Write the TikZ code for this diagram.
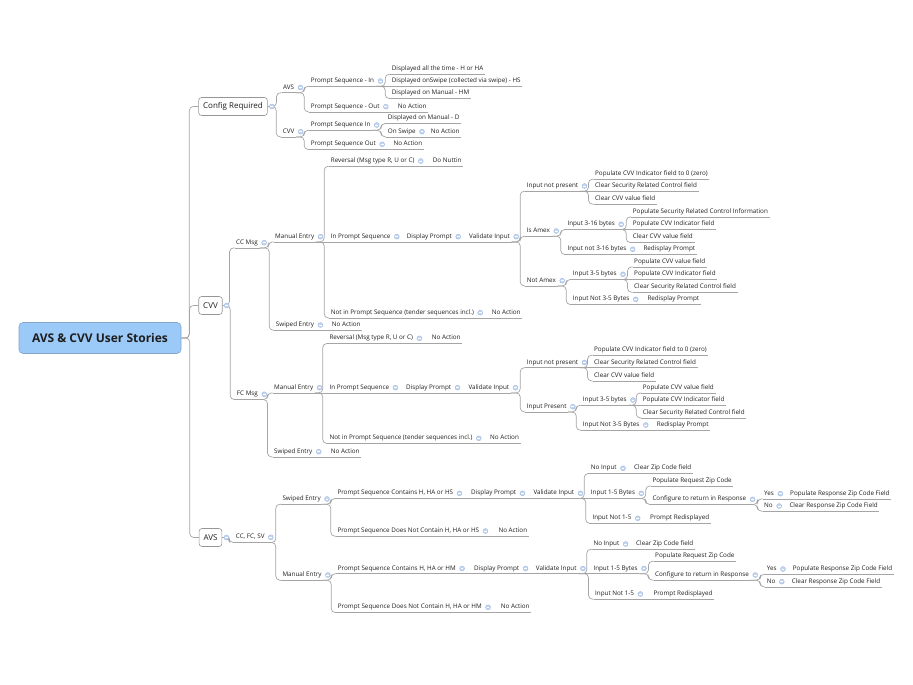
\documentclass[tikz,border=0pt]{standalone}
\usepackage{fontspec}
\setmainfont{Open Sans}
\usetikzlibrary{backgrounds}
\definecolor{linegray}{RGB}{165,165,165}
\definecolor{txtgray}{RGB}{30,30,30}
\definecolor{boxgray}{RGB}{150,150,150}
\definecolor{rootblue}{RGB}{155,201,248}
\definecolor{rootedge}{RGB}{135,165,200}
\definecolor{mkblue}{RGB}{196,214,240}
\definecolor{mkedge}{RGB}{150,178,220}
\newcommand{\lblfont}{\fontsize{6.3}{7.5}\selectfont}
\newcommand{\topicfont}{\fontsize{8}{9.5}\selectfont}
\newcommand{\rootfont}{\fontsize{12}{14}\selectfont\bfseries}
\newcommand{\mmlink}[2]{\draw[conn] (#1.south east) -| ([xshift=-5pt]#2.south west) -- (#2.south west);}
\newcommand{\mmchain}[2]{\draw[conn] (#1.south east) -- (#2.south west);}
\newcommand{\boxlink}[2]{\draw[conn] (#1.east) -| ([xshift=-5pt]#2.south west) -- (#2.south west);}

\begin{document}
\begin{tikzpicture}[
    x=1pt, y=-1pt,
    conn/.style={draw=linegray, line width=0.7pt, rounded corners=4pt},
    uline/.style={draw=linegray, line width=0.7pt},
    mk/.style={circle, fill=mkblue, draw=mkedge, line width=0.3pt, minimum size=5pt, inner sep=0pt, label distance=2pt,
      path picture={\draw[white, line width=0.6pt] ([xshift=-1.4pt]path picture bounding box.center) -- ([xshift=1.4pt]path picture bounding box.center);}},
    lbl/.style={anchor=west, font=\lblfont, text=txtgray, inner xsep=1.5pt, inner ysep=2pt, text height=4.6pt, text depth=1.4pt,
      append after command={(\tikzlastnode.south west) edge[uline] (\tikzlastnode.south east)}},
    lblp/.style={lbl, label={[mk, label distance=2pt]right:{}}},
    topic/.style={rectangle, rounded corners=3pt, draw=boxgray, fill=white, line width=0.6pt, font=\topicfont, text=txtgray,
      inner xsep=4.5pt, inner ysep=0pt, minimum height=18pt, label={[mk, label distance=1.5pt]right:{}}},
    rootbox/.style={rectangle, rounded corners=4pt, draw=rootedge, fill=rootblue, line width=0.6pt, font=\rootfont, text=txtgray,
      minimum width=162pt, minimum height=31pt}]

  \useasboundingbox (0,0) rectangle (913,685);

  \node[rootbox] (root) at (100,338) {AVS \& CVV User Stories};
  \node[topic] (cfg) at (233,106.5) {Config Required};
  \node[topic] (cvv) at (210.5,305.5) {CVV};
  \node[topic] (avs) at (210.5,537.5) {AVS};

  % Config Required
  \node[lblp] (cAVS) at (281.5,87.5) {AVS};
  \node[lblp] (cPSin) at (309.2,81) {Prompt Sequence - In};
  \node[lbl] (cDisp1) at (390.2,69) {Displayed all the time - H or HA};
  \node[lbl] (cDisp2) at (390.2,81) {Displayed onSwipe (collected via swipe) - HS};
  \node[lbl] (cDisp3) at (390.2,93.3) {Displayed on Manual - HM};
  \node[lblp] (cPSout) at (309.2,106.7) {Prompt Sequence - Out};
  \node[lbl] (cNA1) at (396.2,106.7) {No Action};
  \node[lblp] (cCVV) at (281.2,131.7) {CVV};
  \node[lblp] (cCPSin) at (309.2,125) {Prompt Sequence In};
  \node[lbl] (cDispD) at (386.2,118.3) {Displayed on Manual - D};
  \node[lblp] (cSwipe) at (386.2,131.7) {On Swipe};
  \node[lbl] (cNA2) at (429.2,131.7) {No Action};
  \node[lblp] (cCPSout) at (309.2,144.3) {Prompt Sequence Out};
  \node[lbl] (cNA3) at (391.8,144.3) {No Action};

  % CVV - CC Msg
  \node[lblp] (ccMsg) at (234.5,242.7) {CC Msg};
  \node[lblp] (ccMan) at (273.5,236.7) {Manual Entry};
  \node[lblp] (ccRev) at (329.2,161) {Reversal (Msg type R, U or C)};
  \node[lbl] (ccNutt) at (431.2,161) {Do Nuttin};
  \node[lblp] (ccInPS) at (329.2,236.7) {In Prompt Sequence};
  \node[lblp] (ccDisp) at (405.2,236.7) {Display Prompt};
  \node[lblp] (ccVal) at (467.5,236.7) {Validate Input};
  \node[lblp] (ccNotPres) at (525.2,186) {Input not present};
  \node[lbl] (ccNP1) at (593.5,174) {Populate CVV Indicator field to 0 (zero)};
  \node[lbl] (ccNP2) at (593.5,186) {Clear Security Related Control field};
  \node[lbl] (ccNP3) at (593.5,199) {Clear CVV value field};
  \node[lblp] (ccAmex) at (525.2,231) {Is Amex};
  \node[lblp] (ccA316) at (565.8,224.3) {Input 3-16 bytes};
  \node[lbl] (ccA1) at (631.2,211.7) {Populate Security Related Control Information};
  \node[lbl] (ccA2) at (631.2,224.3) {Populate CVV Indicator field};
  \node[lbl] (ccA3) at (631.2,237.3) {Clear CVV value field};
  \node[lblp] (ccAnot) at (565.8,249.3) {Input not 3-16 bytes};
  \node[lbl] (ccAred) at (641.8,249.3) {Redisplay Prompt};
  \node[lblp] (ccNotAmex) at (525.2,280.7) {Not Amex};
  \node[lblp] (ccN35) at (571.2,274.3) {Input 3-5 bytes};
  \node[lbl] (ccN1) at (632.5,261.7) {Populate CVV value field};
  \node[lbl] (ccN2) at (632.5,274.3) {Populate CVV Indicator field};
  \node[lbl] (ccN3) at (632.5,287) {Clear Security Related Control field};
  \node[lblp] (ccNnot) at (571.2,299.3) {Input Not 3-5 Bytes};
  \node[lbl] (ccNred) at (645.8,299.3) {Redisplay Prompt};
  \node[lblp] (ccNotPS) at (329.2,312.7) {Not in Prompt Sequence (tender sequences incl.)};
  \node[lbl] (ccNotPSna) at (490.2,312.7) {No Action};
  \node[lblp] (ccSwp) at (274.2,325) {Swiped Entry};
  \node[lbl] (ccSwpNA) at (330.2,325) {No Action};

  % CVV - FC Msg
  \node[lblp] (fcMsg) at (235.2,394.3) {FC Msg};
  \node[lblp] (fcMan) at (272.5,387.7) {Manual Entry};
  \node[lblp] (fcRev) at (327.8,338.3) {Reversal (Msg type R, U or C)};
  \node[lbl] (fcRevNA) at (430.2,338.3) {No Action};
  \node[lblp] (fcInPS) at (327.8,387.7) {In Prompt Sequence};
  \node[lblp] (fcDisp) at (404.5,387.7) {Display Prompt};
  \node[lblp] (fcVal) at (466.8,387.7) {Validate Input};
  \node[lblp] (fcNotPres) at (525.2,362.5) {Input not present};
  \node[lbl] (fcNP1) at (592.5,350) {Populate CVV Indicator field to 0 (zero)};
  \node[lbl] (fcNP2) at (592.5,362.5) {Clear Security Related Control field};
  \node[lbl] (fcNP3) at (592.5,375.7) {Clear CVV value field};
  \node[lblp] (fcPres) at (525.2,406.7) {Input Present};
  \node[lblp] (fcP35) at (581.2,400) {Input 3-5 bytes};
  \node[lbl] (fcP1) at (641.2,387.7) {Populate CVV value field};
  \node[lbl] (fcP2) at (641.2,400) {Populate CVV Indicator field};
  \node[lbl] (fcP3) at (641.2,412.7) {Clear Security Related Control field};
  \node[lblp] (fcPnot) at (581.2,425) {Input Not 3-5 Bytes};
  \node[lbl] (fcPred) at (655.2,425) {Redisplay Prompt};
  \node[lblp] (fcNotPS) at (327.8,438.3) {Not in Prompt Sequence (tender sequences incl.)};
  \node[lbl] (fcNotPSna) at (488.5,438.3) {No Action};
  \node[lblp] (fcSwp) at (272.5,451.7) {Swiped Entry};
  \node[lbl] (fcSwpNA) at (329.2,451.7) {No Action};

  % AVS
  \node[lblp] (aCards) at (234.2,537.3) {CC, FC, SV};
  \node[lblp] (aSwp) at (280.8,499) {Swiped Entry};
  \node[lblp] (aSwpHS) at (335.8,493.3) {Prompt Sequence Contains H, HA or HS};
  \node[lblp] (aSwpDisp) at (469.5,493.3) {Display Prompt};
  \node[lblp] (aSwpVal) at (531.8,493.3) {Validate Input};
  \node[lblp] (aSNo) at (589.2,468.3) {No Input};
  \node[lbl] (aSNoClr) at (632.5,468.3) {Clear Zip Code field};
  \node[lblp] (aS15) at (589.2,493.3) {Input 1-5 Bytes};
  \node[lbl] (aSReq) at (650.8,480.7) {Populate Request Zip Code};
  \node[lblp] (aSCfg) at (650.8,499.3) {Configure to return in Response};
  \node[lblp] (aSYes) at (762.5,493.7) {Yes};
  \node[lbl] (aSYesP) at (788.5,493.7) {Populate Response Zip Code Field};
  \node[lblp] (aSNo2) at (762.5,506) {No};
  \node[lbl] (aSNoC) at (787.8,506) {Clear Response Zip Code Field};
  \node[lblp] (aSNot) at (590.8,518.3) {Input Not 1-5};
  \node[lbl] (aSNotP) at (648.5,518.3) {Prompt Redisplayed};
  \node[lblp] (aSwpNot) at (335.8,531) {Prompt Sequence Does Not Contain H, HA or HS};
  \node[lbl] (aSwpNotNA) at (496.8,531) {No Action};
  \node[lblp] (aMan) at (280.8,575) {Manual Entry};
  \node[lblp] (aManHM) at (336.2,568.5) {Prompt Sequence Contains H, HA or HM};
  \node[lblp] (aManDisp) at (472.5,568.5) {Display Prompt};
  \node[lblp] (aManVal) at (534.2,568.5) {Validate Input};
  \node[lblp] (aMNo) at (591.8,544) {No Input};
  \node[lbl] (aMNoClr) at (634.5,544) {Clear Zip Code field};
  \node[lblp] (aM15) at (591.8,568.5) {Input 1-5 Bytes};
  \node[lbl] (aMReq) at (653.5,556) {Populate Request Zip Code};
  \node[lblp] (aMCfg) at (653.5,575) {Configure to return in Response};
  \node[lblp] (aMYes) at (765.2,569) {Yes};
  \node[lbl] (aMYesP) at (791.2,569) {Populate Response Zip Code Field};
  \node[lblp] (aMNo2) at (765.2,581.7) {No};
  \node[lbl] (aMNoC) at (790.2,581.7) {Clear Response Zip Code Field};
  \node[lblp] (aMNot) at (593.5,594) {Input Not 1-5};
  \node[lbl] (aMNotP) at (651.8,594) {Prompt Redisplayed};
  \node[lblp] (aManNot) at (336.2,607.3) {Prompt Sequence Does Not Contain H, HA or HM};
  \node[lbl] (aManNotNA) at (499.2,607.3) {No Action};

  \begin{scope}[on background layer]
    \draw[conn] (root.east) -| ([xshift=-9pt]cfg.west) -- (cfg.west);
    \draw[conn] (root.east) -| ([xshift=-9pt]cvv.west) -- (cvv.west);
    \draw[conn] (root.east) -| ([xshift=-9pt]avs.west) -- (avs.west);

    \boxlink{cfg}{cAVS} \boxlink{cfg}{cCVV}
    \mmlink{cAVS}{cPSin} \mmlink{cAVS}{cPSout}
    \mmlink{cPSin}{cDisp1} \mmchain{cPSin}{cDisp2} \mmlink{cPSin}{cDisp3}
    \mmchain{cPSout}{cNA1}
    \mmlink{cCVV}{cCPSin} \mmlink{cCVV}{cCPSout}
    \mmlink{cCPSin}{cDispD} \mmlink{cCPSin}{cSwipe}
    \mmchain{cSwipe}{cNA2} \mmchain{cCPSout}{cNA3}

    \boxlink{cvv}{ccMsg} \boxlink{cvv}{fcMsg}
    \mmlink{ccMsg}{ccMan} \mmlink{ccMsg}{ccSwp}
    \mmlink{ccMan}{ccRev} \mmchain{ccMan}{ccInPS} \mmlink{ccMan}{ccNotPS}
    \mmchain{ccRev}{ccNutt} \mmchain{ccInPS}{ccDisp} \mmchain{ccDisp}{ccVal}
    \mmlink{ccVal}{ccNotPres} \mmlink{ccVal}{ccAmex} \mmlink{ccVal}{ccNotAmex}
    \mmlink{ccNotPres}{ccNP1} \mmchain{ccNotPres}{ccNP2} \mmlink{ccNotPres}{ccNP3}
    \mmlink{ccAmex}{ccA316} \mmlink{ccAmex}{ccAnot}
    \mmlink{ccA316}{ccA1} \mmchain{ccA316}{ccA2} \mmlink{ccA316}{ccA3}
    \mmchain{ccAnot}{ccAred}
    \mmlink{ccNotAmex}{ccN35} \mmlink{ccNotAmex}{ccNnot}
    \mmlink{ccN35}{ccN1} \mmchain{ccN35}{ccN2} \mmlink{ccN35}{ccN3}
    \mmchain{ccNnot}{ccNred}
    \mmchain{ccNotPS}{ccNotPSna} \mmchain{ccSwp}{ccSwpNA}

    \mmlink{fcMsg}{fcMan} \mmlink{fcMsg}{fcSwp}
    \mmlink{fcMan}{fcRev} \mmchain{fcMan}{fcInPS} \mmlink{fcMan}{fcNotPS}
    \mmchain{fcRev}{fcRevNA} \mmchain{fcInPS}{fcDisp} \mmchain{fcDisp}{fcVal}
    \mmlink{fcVal}{fcNotPres} \mmlink{fcVal}{fcPres}
    \mmlink{fcNotPres}{fcNP1} \mmchain{fcNotPres}{fcNP2} \mmlink{fcNotPres}{fcNP3}
    \mmlink{fcPres}{fcP35} \mmlink{fcPres}{fcPnot}
    \mmlink{fcP35}{fcP1} \mmchain{fcP35}{fcP2} \mmlink{fcP35}{fcP3}
    \mmchain{fcPnot}{fcPred}
    \mmchain{fcNotPS}{fcNotPSna} \mmchain{fcSwp}{fcSwpNA}

    \boxlink{avs}{aCards}
    \mmlink{aCards}{aSwp} \mmlink{aCards}{aMan}
    \mmlink{aSwp}{aSwpHS} \mmlink{aSwp}{aSwpNot}
    \mmchain{aSwpHS}{aSwpDisp} \mmchain{aSwpDisp}{aSwpVal}
    \mmlink{aSwpVal}{aSNo} \mmchain{aSwpVal}{aS15} \mmlink{aSwpVal}{aSNot}
    \mmchain{aSNo}{aSNoClr}
    \mmlink{aS15}{aSReq} \mmlink{aS15}{aSCfg}
    \mmlink{aSCfg}{aSYes} \mmlink{aSCfg}{aSNo2}
    \mmchain{aSYes}{aSYesP} \mmchain{aSNo2}{aSNoC}
    \mmchain{aSNot}{aSNotP} \mmchain{aSwpNot}{aSwpNotNA}
    \mmlink{aMan}{aManHM} \mmlink{aMan}{aManNot}
    \mmchain{aManHM}{aManDisp} \mmchain{aManDisp}{aManVal}
    \mmlink{aManVal}{aMNo} \mmchain{aManVal}{aM15} \mmlink{aManVal}{aMNot}
    \mmchain{aMNo}{aMNoClr}
    \mmlink{aM15}{aMReq} \mmlink{aM15}{aMCfg}
    \mmlink{aMCfg}{aMYes} \mmlink{aMCfg}{aMNo2}
    \mmchain{aMYes}{aMYesP} \mmchain{aMNo2}{aMNoC}
    \mmchain{aMNot}{aMNotP} \mmchain{aManNot}{aManNotNA}
  \end{scope}
\end{tikzpicture}
\end{document}
